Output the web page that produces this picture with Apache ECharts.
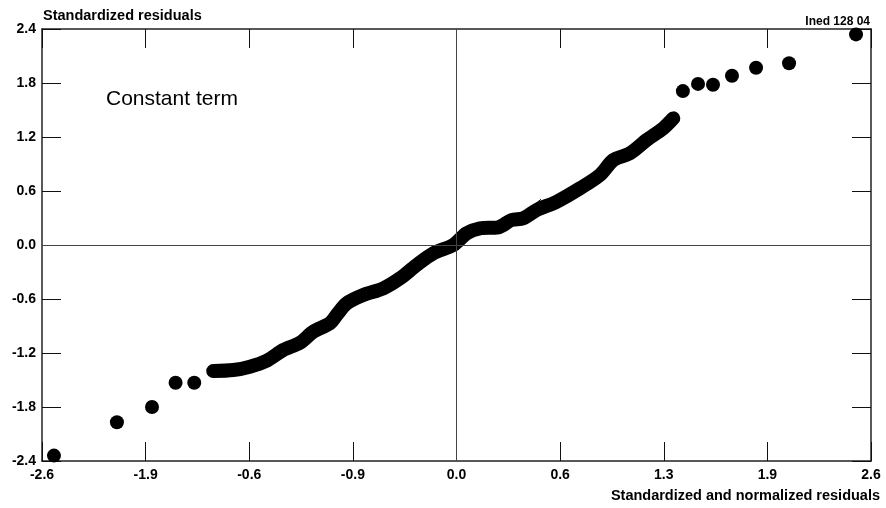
<!DOCTYPE html>
<html>
<head>
<meta charset="utf-8">
<script src="https://cdn.jsdelivr.net/npm/echarts@6/dist/echarts.min.js"></script>
<style>
  html, body { margin: 0; padding: 0; background: #fff; }
  #chart { width: 886px; height: 508px; }
</style>
</head>
<body>
<div id="chart"></div>
<script>
// Axis ranges and tick labels as printed on the chart
const X_MIN = -2.6, X_MAX = 2.6, X_STEP = 0.65;
const Y_MIN = -2.4, Y_MAX = 2.4, Y_STEP = 0.6;
const xTickLabels = ["-2.6", "-1.9", "-0.6", "-0.9", "0.0", "0.6", "1.3", "1.9", "2.6"];
const yTickLabels = ["-2.4", "-1.8", "-1.2", "-0.6", "0.0", "0.6", "1.2", "1.8", "2.4"];

// Isolated residuals in the lower tail
const lowerTailX = [-2.525, -2.130, -1.910, -1.762, -1.645];
const lowerTailY = [-2.34, -1.97, -1.80, -1.53, -1.53];

// Isolated residuals in the upper tail
const upperTailX = [1.420, 1.515, 1.609, 1.728, 1.879, 2.086, 2.506];
const upperTailY = [1.71, 1.79, 1.78, 1.88, 1.97, 2.02, 2.34];

// Dense body of the residuals (drawn as a thick band)
const bodyX = [-1.526, -1.400, -1.296, -1.191, -1.087, -0.982, -0.898, -0.794, -0.752, -0.689,
               -0.585, -0.459, -0.354, -0.250, -0.146, -0.020, 0.064, 0.147, 0.262, 0.346,
               0.419, 0.503, 0.629, 0.775, 0.900, 0.984, 1.088, 1.193, 1.297, 1.360];
const bodyY = [-1.400, -1.389, -1.352, -1.286, -1.167, -1.086, -0.963, -0.870, -0.778, -0.648,
               -0.556, -0.481, -0.370, -0.222, -0.092, 0.000, 0.130, 0.186, 0.197, 0.278,
               0.297, 0.389, 0.481, 0.630, 0.778, 0.944, 1.019, 1.167, 1.296, 1.407];

// Small stray stroke next to the band
const strayX = [0.461, 0.530];
const strayY = [0.408, 0.508];

const zip = (xs, ys) => xs.map((x, i) => [x, ys[i]]);

const FONT = 'Liberation Sans, Arial, sans-serif';
const frame = { show: true, onZero: false, lineStyle: { color: '#222', width: 1.5 } };
const ticks = { show: true, inside: true, length: 19, lineStyle: { color: '#111', width: 1 } };

const chart = echarts.init(document.getElementById('chart'), null, { renderer: 'canvas' });

chart.setOption({
  animation: false,
  backgroundColor: '#fff',
  grid: { left: 42, right: 15, top: 29, bottom: 47 },
  xAxis: [
    {
      type: 'value', min: X_MIN, max: X_MAX, interval: X_STEP, position: 'bottom',
      axisLine: frame, axisTick: ticks, splitLine: { show: false },
      axisLabel: {
        show: true, margin: 7, color: '#000', fontFamily: FONT, fontWeight: 'bold', fontSize: 14,
        formatter: v => xTickLabels[Math.round((v - X_MIN) / X_STEP)]
      }
    },
    {
      type: 'value', min: X_MIN, max: X_MAX, interval: X_STEP, position: 'top',
      axisLine: frame, axisTick: ticks, splitLine: { show: false }, axisLabel: { show: false }
    }
  ],
  yAxis: [
    {
      type: 'value', min: Y_MIN, max: Y_MAX, interval: Y_STEP, position: 'left',
      axisLine: frame, axisTick: ticks, splitLine: { show: false },
      axisLabel: {
        show: true, margin: 6, color: '#000', fontFamily: FONT, fontWeight: 'bold', fontSize: 14,
        formatter: v => yTickLabels[Math.round((v - Y_MIN) / Y_STEP)]
      }
    },
    {
      type: 'value', min: Y_MIN, max: Y_MAX, interval: Y_STEP, position: 'right',
      axisLine: frame, axisTick: ticks, splitLine: { show: false }, axisLabel: { show: false }
    }
  ],
  graphic: [
    { type: 'text', left: 43, top: 8,
      style: { text: 'Standardized residuals', font: 'bold 14.5px ' + FONT, fill: '#000' } },
    { type: 'text', right: 6, top: 488,
      style: { text: 'Standardized and normalized residuals', font: 'bold 14.5px ' + FONT, fill: '#000' } },
    { type: 'text', right: 16, top: 16,
      style: { text: 'Ined 128 04', font: 'bold 12px ' + FONT, fill: '#000' } },
    { type: 'text', left: 106, top: 89,
      style: { text: 'Constant term', font: '21px ' + FONT, fill: '#000' } }
  ],
  series: [
    {
      type: 'line', data: [], silent: true,
      markLine: {
        silent: true, symbol: 'none', label: { show: false },
        lineStyle: { color: '#444', width: 1, type: 'solid' },
        data: [{ xAxis: 0 }, { yAxis: 0 }]
      }
    },
    {
      type: 'line', data: zip(bodyX, bodyY), smooth: 0.3, symbol: 'none', silent: true,
      lineStyle: { color: '#000', width: 14, cap: 'round', join: 'round' }
    },
    {
      type: 'line', data: zip(strayX, strayY), symbol: 'none', silent: true,
      lineStyle: { color: '#000', width: 1 }
    },
    {
      type: 'scatter', data: zip(lowerTailX, lowerTailY), symbolSize: 14, silent: true,
      itemStyle: { color: '#000', opacity: 1 }
    },
    {
      type: 'scatter', data: zip(upperTailX, upperTailY), symbolSize: 14, silent: true,
      itemStyle: { color: '#000', opacity: 1 }
    }
  ]
});
</script>
</body>
</html>
